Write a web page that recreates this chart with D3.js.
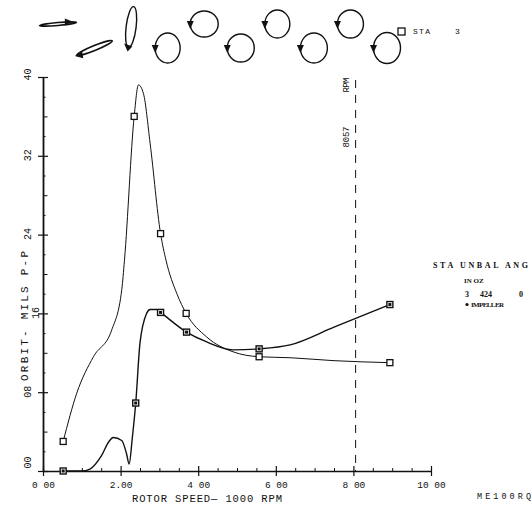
<!DOCTYPE html>
<html><head><meta charset="utf-8">
<script src="https://cdn.jsdelivr.net/npm/d3@7"></script>
<style>body{margin:0;background:#fff}svg{display:block}</style>
</head><body><svg id="c" width="532" height="507"></svg>
<script>
// ---------- data ----------
const xTickValues = [0, 2, 4, 6, 8, 10];
const xTickLabels = ["0 00", "2.00", "4 00", "6 00", "8 00", "10 00"];
const yTickValues = [0, 8, 16, 24, 32, 40];
const yTickLabels = ["00", "08", "16", "24", "32", "40"];

// traced curves: rotor speed (1000 rpm) and orbit (mils p-p)
const curveASpeed = [0.52, 0.87, 1.30, 1.77, 2.03, 2.10, 2.35, 2.46, 2.59, 2.76, 3.03, 3.17, 3.45, 3.69, 4.22, 4.90, 5.57, 6.37, 7.50, 8.94];
const curveAMils  = [3.0, 7.9, 11.6, 14.3, 18.4, 21.4, 36.0, 39.2, 38.3, 33.3, 24.1, 21.4, 18.0, 16.0, 13.6, 12.1, 11.6, 11.5, 11.2, 11.0];
const curveBSpeed = [0.52, 1.00, 1.21, 1.50, 1.70, 1.81, 2.03, 2.15, 2.22, 2.30, 2.39, 2.50, 2.67, 2.76, 2.93, 3.03, 3.70, 4.22, 4.90, 5.57, 6.37, 7.50, 8.94];
const curveBMils  = [0.0, 0.0, 0.2, 1.5, 3.0, 3.4, 3.1, 1.8, 0.7, 3.3, 6.9, 13.0, 16.0, 16.4, 16.4, 16.1, 14.1, 13.1, 12.3, 12.4, 12.8, 14.6, 16.9];

// measured points (markers)
const markASpeed = [0.52, 2.35, 3.03, 3.69, 5.57, 8.94];
const markAMils  = [3.0, 36.0, 24.1, 16.0, 11.6, 11.0];
const markBSpeed = [0.52, 2.39, 3.03, 3.70, 5.57, 8.94];
const markBMils  = [0.0, 6.9, 16.1, 14.1, 12.4, 16.9];

const criticalSpeed = [8.057];
const criticalLabel = ["8057", "RPM"];

// orbit shapes (width, height, tilt deg, arrow phase deg, arrow direction)
const orbitW     = [37, 38, 10, 25, 28, 27, 25, 27, 26, 27];
const orbitH     = [3, 5, 41, 30, 26, 28, 28, 30, 28, 31];
const orbitTilt  = [-5, -22, 7, 0, 0, 0, 0, 0, 0, 0];
const orbitPhase = [-57, 150, 100, 180, 180, 180, 180, 180, 180, 180];
const orbitDir   = [1, 1, 1, -1, -1, -1, -1, -1, -1, -1];

const legendHead = ["STA UNBAL ANG", "IN OZ"];
const legendRow  = ["3", "424", "0"];
const legendName = "IMPELLER";

// ---------- drawing ----------
const svg = d3.select("#c");
const MONO = "'Liberation Mono','DejaVu Sans Mono',monospace";
const SERIF = "'Liberation Serif','DejaVu Serif',serif";
const INK = "#111";

const x = d3.scaleLinear().domain([0, 10]).range([43, 431]);
const y = d3.scaleLinear().domain([0, 40]).range([471, 77]);

// X axis
const gx = svg.append("g").attr("transform", `translate(0,${y(0)})`);
gx.call(d3.axisBottom(x).tickValues(xTickValues).tickFormat((d, i) => xTickLabels[i]).tickSizeInner(5).tickSizeOuter(0));
gx.select(".domain").attr("stroke", INK).attr("stroke-width", 1.3);
gx.selectAll(".tick line").attr("stroke", INK).attr("stroke-width", 1.2);
gx.selectAll(".tick text").attr("font-family", MONO).attr("font-size", 9.5).attr("fill", INK)
  .attr("y", 17).attr("dy", 0);
const gxUp = svg.append("g").attr("transform", `translate(0,${y(0)})`)
  .call(d3.axisTop(x).tickValues(xTickValues).tickSize(5).tickFormat(""));
gxUp.select(".domain").remove();
gxUp.selectAll(".tick line").attr("stroke", INK).attr("stroke-width", 1.2);
const gxMinor = svg.append("g").attr("transform", `translate(0,${y(0)})`)
  .call(d3.axisTop(x).tickValues(d3.range(0.5, 10, 0.5).filter(v => v % 2 !== 0)).tickSize(3).tickFormat(""));
gxMinor.select(".domain").remove();
gxMinor.selectAll(".tick line").attr("stroke", INK);

// Y axis
const yLabDx = {0: -16, 8: -16, 16: -8, 24: -16, 32: -16, 40: -16};
const yLabDy = {0: -9, 8: -1, 16: -1, 24: -1, 32: -1, 40: -3};
const gy = svg.append("g").attr("transform", `translate(${x(0)},0)`);
gy.call(d3.axisLeft(y).tickValues(yTickValues).tickFormat((d, i) => yTickLabels[i]).tickSizeInner(5).tickSizeOuter(0));
gy.select(".domain").attr("stroke", INK).attr("stroke-width", 1.8);
gy.selectAll(".tick line").attr("stroke", INK).attr("stroke-width", 1.2);
gy.selectAll(".tick text").attr("font-family", MONO).attr("font-size", 10).attr("fill", INK)
  .attr("x", null).attr("dy", null).attr("text-anchor", "middle")
  .attr("transform", d => `translate(${yLabDx[d]},${yLabDy[d]}) rotate(-90)`)
  .attr("dy", "0.35em");
const gyR = svg.append("g").attr("transform", `translate(${x(0)},0)`)
  .call(d3.axisRight(y).tickValues(yTickValues).tickSize(5).tickFormat(""));
gyR.select(".domain").remove();
gyR.selectAll(".tick line").attr("stroke", INK).attr("stroke-width", 1.2);
const gy4 = svg.append("g").attr("transform", `translate(${x(0)},0)`)
  .call(d3.axisRight(y).tickValues(d3.range(4, 40, 8)).tickSize(4.5).tickFormat(""));
gy4.select(".domain").remove();
gy4.selectAll(".tick line").attr("stroke", INK);
const gy2 = svg.append("g").attr("transform", `translate(${x(0)},0)`)
  .call(d3.axisRight(y).tickValues(d3.range(2, 40, 4)).tickSize(2.5).tickFormat(""));
gy2.select(".domain").remove();
gy2.selectAll(".tick line").attr("stroke", INK);

// Axis titles
svg.append("text").attr("transform", "translate(24,316) rotate(-90)")
  .attr("text-anchor", "middle").attr("dy", "0.35em")
  .attr("font-family", MONO).attr("font-size", 11).attr("fill", INK)
  .attr("textLength", 130).attr("lengthAdjust", "spacing")
  .text("ORBIT- MILS P-P");
svg.append("text").attr("x", 132).attr("y", 502)
  .attr("font-family", MONO).attr("font-size", 10.5).attr("fill", INK)
  .attr("textLength", 150).attr("lengthAdjust", "spacing")
  .text("ROTOR SPEED\u2014 1000 RPM");
svg.append("text").attr("x", 477).attr("y", 499)
  .attr("font-family", MONO).attr("font-size", 8.5).attr("fill", INK)
  .attr("textLength", 54).attr("lengthAdjust", "spacing")
  .text("ME100RQ");

// critical speed line
svg.selectAll(".crit").data(criticalSpeed).enter().append("line")
  .attr("x1", d => x(d)).attr("x2", d => x(d))
  .attr("y1", y(39.7)).attr("y2", y(0))
  .attr("stroke", INK).attr("stroke-width", 1).attr("stroke-dasharray", "8,7");
svg.append("text").attr("transform", `translate(${x(criticalSpeed[0]) - 10},137) rotate(-90)`)
  .attr("text-anchor", "middle").attr("dy", "0.35em")
  .attr("font-family", MONO).attr("font-size", 9).attr("fill", INK)
  .attr("textLength", 21).attr("lengthAdjust", "spacing")
  .text(criticalLabel[0]);
svg.append("text").attr("transform", `translate(${x(criticalSpeed[0]) - 10},85) rotate(-90)`)
  .attr("text-anchor", "middle").attr("dy", "0.35em")
  .attr("font-family", MONO).attr("font-size", 9).attr("fill", INK)
  .attr("textLength", 15).attr("lengthAdjust", "spacing")
  .text(criticalLabel[1]);

// curves
const line = d3.line().x(d => x(d[0])).y(d => y(d[1])).curve(d3.curveMonotoneX);
const ptsA = curveASpeed.map((s, i) => [s, curveAMils[i]]);
const ptsB = curveBSpeed.map((s, i) => [s, curveBMils[i]]);
svg.append("path").datum(ptsA).attr("d", line).attr("fill", "none").attr("stroke", INK).attr("stroke-width", 1);
svg.append("path").datum(ptsB).attr("d", line).attr("fill", "none").attr("stroke", INK).attr("stroke-width", 1.4);

// markers
const mA = markASpeed.map((s, i) => [s, markAMils[i]]);
const mB = markBSpeed.map((s, i) => [s, markBMils[i]]);
const S = 6;
svg.selectAll(".ma").data(mA).enter().append("rect")
  .attr("x", d => x(d[0]) - S / 2).attr("y", d => y(d[1]) - S / 2)
  .attr("width", S).attr("height", S).attr("fill", "#fff").attr("stroke", INK).attr("stroke-width", 1.3);
svg.selectAll(".mb").data(mB).enter().append("rect")
  .attr("x", d => x(d[0]) - S / 2).attr("y", d => y(d[1]) - S / 2)
  .attr("width", S).attr("height", S).attr("fill", "#fff").attr("stroke", INK).attr("stroke-width", 1.4);
svg.selectAll(".mbi").data(mB).enter().append("rect")
  .attr("x", d => x(d[0]) - 1.5).attr("y", d => y(d[1]) - 1.5)
  .attr("width", 3).attr("height", 3).attr("fill", INK);

// orbits strip
const ox = d3.scaleLinear().domain([0, orbitW.length - 1]).range([58, 387]);
const oy = i => (i % 2 === 0 ? 24 : 48);
const orbits = orbitW.map((w, i) => ({i, w, h: orbitH[i], tilt: orbitTilt[i], ph: orbitPhase[i], dir: orbitDir[i]}));
const og = svg.selectAll(".orb").data(orbits).enter().append("g")
  .attr("transform", d => `translate(${ox(d.i)},${oy(d.i) + (d.i === 2 ? 3 : 0)}) rotate(${d.tilt})`);
og.append("ellipse").attr("rx", d => d.w / 2).attr("ry", d => d.h / 2)
  .attr("fill", "none").attr("stroke", INK).attr("stroke-width", d => d.h < 6 ? 1.7 : 1.4);
og.append("path").attr("fill", INK).attr("d", d => {
  const t = d.ph * Math.PI / 180, rx = d.w / 2, ry = d.h / 2;
  const px = rx * Math.cos(t), py = ry * Math.sin(t);
  let tx = -rx * Math.sin(t) * d.dir, ty = ry * Math.cos(t) * d.dir;
  const L = Math.hypot(tx, ty); tx /= L; ty /= L;
  const nx = -ty, ny = tx;
  return `M${px + tx * 5},${py + ty * 5}L${px - tx * 3 + nx * 3.5},${py - ty * 3 + ny * 3.5}L${px - tx * 3 - nx * 3.5},${py - ty * 3 - ny * 3.5}Z`;
});

// station label top right
svg.append("rect").attr("x", 398).attr("y", 28).attr("width", 7).attr("height", 7)
  .attr("fill", "#fff").attr("stroke", INK).attr("stroke-width", 1.3);
svg.append("text").attr("x", 413).attr("y", 34).attr("font-family", MONO).attr("font-size", 8).attr("fill", INK)
  .attr("textLength", 17).attr("lengthAdjust", "spacing").text("STA");
svg.append("text").attr("x", 455).attr("y", 34).attr("font-family", MONO).attr("font-size", 8).attr("fill", INK).text("3");

// legend
const lg = svg.append("g").attr("font-family", SERIF).attr("font-weight", "bold").attr("fill", INK);
lg.append("text").attr("x", 433).attr("y", 268).attr("font-size", 8)
  .attr("textLength", 95).attr("lengthAdjust", "spacing").text(legendHead[0]);
lg.append("text").attr("x", 464).attr("y", 283).attr("font-size", 7).text(legendHead[1]);
lg.append("text").attr("x", 465).attr("y", 297).attr("font-size", 8).text(legendRow[0]);
lg.append("text").attr("x", 480).attr("y", 297).attr("font-size", 8).text(legendRow[1]);
lg.append("text").attr("x", 519).attr("y", 297).attr("font-size", 8).text(legendRow[2]);
lg.append("circle").attr("cx", 467).attr("cy", 304.5).attr("r", 1.6);
lg.append("text").attr("x", 471).attr("y", 307).attr("font-size", 7)
  .attr("textLength", 33).attr("lengthAdjust", "spacing").text(legendName);
</script>
</body></html>
